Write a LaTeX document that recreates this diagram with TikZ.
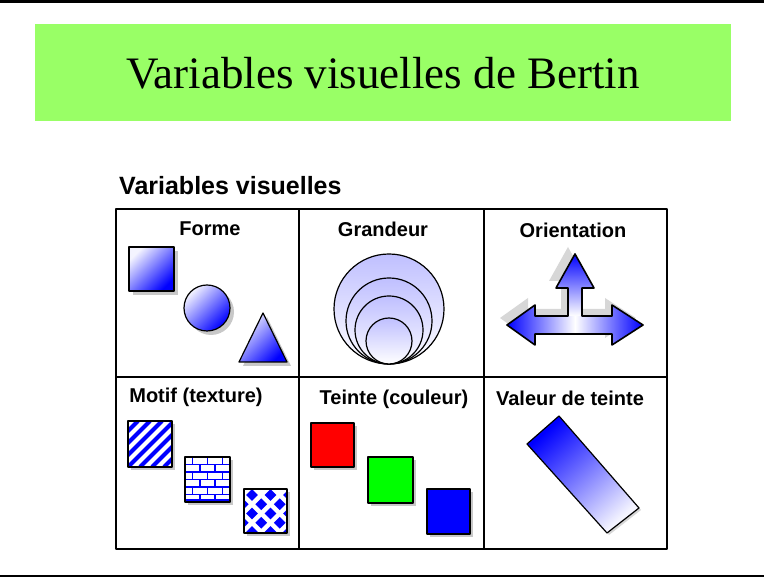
\documentclass[tikz,border=0pt]{standalone}
\usepackage{fontspec}
\setmainfont{Liberation Serif}
\setsansfont{Liberation Sans}
\usepackage{xcolor}
\definecolor{titlebg}{HTML}{99FF66}
\definecolor{ink}{HTML}{000000}
\definecolor{pure}{HTML}{0000FF}
\definecolor{pale}{HTML}{F4F4FF}
\definecolor{drop}{HTML}{9A9A9A}
\tikzset{fig/.style={line join=round,x=1pt,y=1pt},
  lbl/.style={font=\sffamily\bfseries\fontsize{20}{22}\selectfont,inner sep=0pt,ink},
  diag/.style={top color=pure,bottom color=pale,shading angle=-135},
  drp/.style={fill=drop,opacity=0.55},
  box/.style={draw=ink,line width=1.2}}

\begin{document}
\begin{tikzpicture}[fig]
  \useasboundingbox (0,0) rectangle (764,580);
  \draw[ink,line width=3](0,578)--(764,578);
  \draw[ink,line width=2.5](0,4)--(764,4);
  \fill[titlebg](35,459)rectangle(731,556);
  \node[font=\fontsize{45}{50}\selectfont,ink](title)at(383,507){Variables visuelles de Bertin};
  \node[font=\sffamily\bfseries\fontsize{25}{27}\selectfont,anchor=base west,inner sep=0pt,ink](head)at(119,385){Variables visuelles};
  % table
  \draw[ink,line width=1.5](116,31)rectangle(667,371);
  \draw[ink,line width=1.5](299,31)--(299,371) (484,31)--(484,371) (116,203)--(667,203);
  \node[lbl](forme)at(210,351){Forme};
  \node[lbl](grand)at(383,351){Grandeur};
  \node[lbl](orient)at(573,350){Orientation};
  \node[lbl](motif)at(196,183){Motif (texture)};
  \node[lbl](teinte)at(394,181){Teinte (couleur)};
  \node[lbl](valeur)at(570,182){Valeur de teinte};
  % forme
  \fill[drp](133,285)rectangle(178,329);
  \shade[diag,box](129,289)rectangle(174,333);
  \fill[drp](211,268)circle(23);
  \shade[diag,box](207,272)circle(23);
  \fill[drp](243,214)--(291,214)--(267,263)--cycle;
  \shade[diag,box](239,218)--(287,218)--(263,267)--cycle;
  % grandeur
  \foreach \r in {55,43,34,23}
    \shade[top color=pure!25,bottom color=white,box](389,216+\r)circle(\r);
  % orientation
  \fill[drp,opacity=0.4,shift={(-7,7)}](507,255)--(535,275)--(535,264)--(568,264)--(568,292)--(556,292)--(575,326)--(594,292)--(582,292)--(582,264)--(612,264)--(612,275)--(643,255)--(612,235)--(612,246)--(535,246)--(535,235)--cycle;
  \shade[left color=pure,right color=pure,middle color=white](507,255)--(535,275)--(535,264)--(612,264)--(612,275)--(643,255)--(612,235)--(612,246)--(535,246)--(535,235)--cycle;
  \shade[top color=pure,bottom color=white](568,264)--(568,292)--(556,292)--(575,326)--(594,292)--(582,292)--(582,264)--cycle;
  \draw[ink,line width=1.6](507,255)--(535,275)--(535,264)--(568,264)--(568,292)--(556,292)--(575,326)--(594,292)--(582,292)--(582,264)--(612,264)--(612,275)--(643,255)--(612,235)--(612,246)--(535,246)--(535,235)--cycle;
  % motif
  \fill[drp](131,110)rectangle(175,156);
  \fill[white](128,113)rectangle(172,159);
  \begin{scope}
    \clip(128,113)rectangle(172,159);
    \foreach \c in {-48,-36,...,48}
      \draw[pure,line width=4](128+\c,113)--++(46,46);
  \end{scope}
  \draw[box](128,113)rectangle(172,159);
  \fill[drp](188,75)rectangle(233,120);
  \fill[white](185,78)rectangle(230,123);
  \begin{scope}
    \clip(185,78)rectangle(230,123);
    \foreach \r in {0,...,5}{
      \draw[pure,line width=1.5](185,78+7.5*\r)--(230,78+7.5*\r);
      \pgfmathsetmacro\off{mod(\r,2)*7.5}
      \foreach \k in {0,...,3}
        \draw[pure,line width=1.5](185+\off+15*\k,78+7.5*\r)--++(0,7.5);
    }
    \fill[pure](185,78)rectangle(230,81);
  \end{scope}
  \draw[box](185,78)rectangle(230,123);
  \fill[drp](247,44)rectangle(290,88);
  \fill[white](244,47)rectangle(287,91);
  \begin{scope}
    \clip(244,47)rectangle(287,91);
    \foreach \j in {0,...,4}{
      \pgfmathsetmacro\off{mod(\j,2)*9.25}
      \foreach \i in {-1,...,2}
        \fill[pure](252+\off+18.5*\i,85-9.25*\j)+(-5.8,0)--+(0,5.8)--+(5.8,0)--+(0,-5.8)--cycle;
    }
  \end{scope}
  \draw[box](244,47)rectangle(287,91);
  % teinte
  \fill[drp](314,110)rectangle(357,154);
  \filldraw[fill=red,box](311,113)rectangle(354,157);
  \fill[drp](371,74)rectangle(416,120);
  \filldraw[fill=green,box](368,77)rectangle(413,123);
  \fill[drp](430,43)rectangle(473,88);
  \filldraw[fill=pure,box](427,46)rectangle(470,91);
  % valeur de teinte
  \fill[drp,opacity=0.4](561,162)--(529,134)--(609,45)--(641,70)--cycle;
  \shade[top color=pure,bottom color=pale,shading angle=42,box](559,164)--(527,136)--(607,47)--(639,72)--cycle;
\end{tikzpicture}
\end{document}
